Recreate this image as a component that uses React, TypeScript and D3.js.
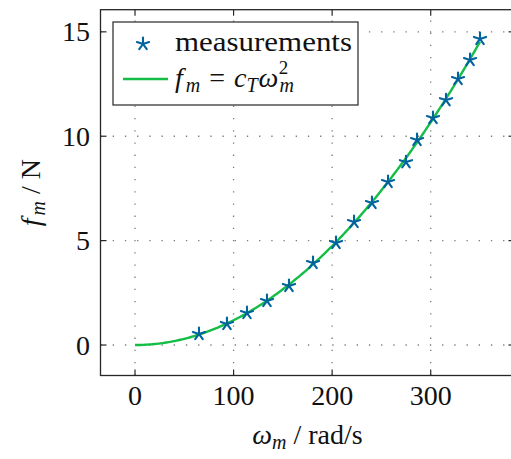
import React from 'react';
import * as d3 from 'd3';

const omega = [64.9, 93.3, 113.6, 133.9, 156.2, 180.6, 203.9, 222.2, 240.4, 256.7, 274.9, 286.1, 302.3, 315.5, 327.7, 339.9, 350];
const force = [0.53, 1.01, 1.53, 2.11, 2.83, 3.93, 4.89, 5.89, 6.8, 7.81, 8.76, 9.82, 10.87, 11.73, 12.74, 13.65, 14.66];
const xTicks = [0, 100, 200, 300];
const yTicks = [0, 5, 10, 15];

const W = 511;
const H = 459;
const FONT = "'Liberation Serif', 'DejaVu Serif', 'Times New Roman', serif";
const BLUE = '#00639e';
const GREEN = '#14bd46';
const AXIS = '#262626';

function Star({ cx, cy, r, color }: { cx: number; cy: number; r: number; color: string }) {
  const lines = d3.range(5).map((k) => {
    const a = (-90 + 72 * k) * (Math.PI / 180);
    return <line key={k} x1={cx} y1={cy} x2={cx + r * Math.cos(a)} y2={cy + r * Math.sin(a)} stroke={color} strokeWidth={2.1} strokeLinecap="round" />;
  });
  return <g>{lines}</g>;
}

export default function App() {
  const x = d3.scaleLinear().domain([-35, 385]).range([100.5, 514.5]);
  const y = d3.scaleLinear().domain([-1.46, 16.06]).range([375.5, 9.7]);
  const [x0, x1] = x.range();
  const [y0, y1] = y.range();

  // least-squares fit of f = cT * w^2 from the measurements
  const cT = d3.sum(omega, (w, i) => force[i] * w * w) / d3.sum(omega, (w) => w ** 4);
  const curvePts: [number, number][] = d3.range(0, 350.001, 2).map((w) => [w, cT * w * w]);
  const line = d3.line<[number, number]>().x((d) => x(d[0])).y((d) => y(d[1]));

  const tickLen = 6;
  const gridStyle = { stroke: '#7a7a7a', strokeWidth: 1.3, strokeDasharray: '1.3 10.9' };
  const txt = { fontFamily: FONT, fill: '#111' } as React.CSSProperties;

  return (
    <svg width={W} height={H} style={{ position: 'absolute', left: 0, top: 0, background: '#fff', fontFamily: FONT }}>
      <defs>
        <clipPath id="plotclip">
          <rect x={x0} y={y1} width={x1 - x0} height={y0 - y1} />
        </clipPath>
      </defs>
      <rect x={0} y={0} width={W} height={H} fill="#fff" />
      {/* grid */}
      {xTicks.map((t) => (
        <line key={'gx' + t} x1={x(t)} x2={x(t)} y1={y0} y2={y1} style={gridStyle} />
      ))}
      {yTicks.map((t) => (
        <line key={'gy' + t} x1={x0} x2={x1} y1={y(t)} y2={y(t)} style={gridStyle} />
      ))}
      {/* ticks */}
      {xTicks.map((t) => (
        <g key={'tx' + t}>
          <line x1={x(t)} x2={x(t)} y1={y0} y2={y0 - tickLen} stroke={AXIS} strokeWidth={1.2} />
          <line x1={x(t)} x2={x(t)} y1={y1} y2={y1 + tickLen} stroke={AXIS} strokeWidth={1.2} />
          <text x={x(t)} y={405} textAnchor="middle" fontSize={28} style={txt}>{t}</text>
        </g>
      ))}
      {yTicks.map((t) => (
        <g key={'ty' + t}>
          <line x1={x0} x2={x0 + tickLen} y1={y(t)} y2={y(t)} stroke={AXIS} strokeWidth={1.2} />
          <line x1={x1} x2={x1 - tickLen} y1={y(t)} y2={y(t)} stroke={AXIS} strokeWidth={1.2} />
          <text x={90} y={y(t) + 9.5} textAnchor="end" fontSize={28} style={txt}>{t}</text>
        </g>
      ))}
      {/* curve */}
      <path d={line(curvePts) || ''} fill="none" stroke={GREEN} strokeWidth={2.4} clipPath="url(#plotclip)" />
      {/* markers */}
      {omega.map((w, i) => (
        <Star key={'m' + i} cx={x(w)} cy={y(force[i])} r={6.4} color={BLUE} />
      ))}
      {/* axes box */}
      <rect x={x0} y={y1} width={x1 - x0} height={y0 - y1} fill="none" stroke={AXIS} strokeWidth={1.3} />
      {/* legend */}
      <rect x={113} y={22} width={245} height={83} fill="#fff" stroke={AXIS} strokeWidth={1.2} />
      <Star cx={143} cy={44} r={6.4} color={BLUE} />
      <text x={175} y={51} fontSize={28} style={txt} textLength={177} lengthAdjust="spacingAndGlyphs">measurements</text>
      <line x1={123} x2={168} y1={79} y2={79} stroke={GREEN} strokeWidth={2.4} />
      <text x={175} y={87} fontSize={28} style={txt}>
        <tspan fontStyle="italic">f</tspan>
        <tspan fontStyle="italic" fontSize={20} dy={5} dx={3}>m</tspan>
        <tspan dy={-5} dx={9}>=</tspan>
        <tspan fontStyle="italic" dx={9}>c</tspan>
        <tspan fontStyle="italic" fontSize={20} dy={5}>T</tspan>
        <tspan fontStyle="italic" dy={-5} dx={1}>ω</tspan>
        <tspan fontStyle="italic" fontSize={20} dy={5} dx={1}>m</tspan>
        <tspan fontSize={19} dx={-15} dy={-18}>2</tspan>
      </text>
      {/* axis labels */}
      <text x={307.5} y={444} textAnchor="middle" fontSize={28} style={txt}>
        <tspan fontStyle="italic">ω</tspan>
        <tspan fontStyle="italic" fontSize={20} dy={5}>m</tspan>
        <tspan dy={-5}> / rad/s</tspan>
      </text>
      <text transform={`translate(40, ${(y0 + y1) / 2}) rotate(-90)`} textAnchor="middle" fontSize={28} style={txt}>
        <tspan fontStyle="italic">f</tspan>
        <tspan fontStyle="italic" fontSize={20} dy={5} dx={3}>m</tspan>
        <tspan dy={-5}> / N</tspan>
      </text>
    </svg>
  );
}
